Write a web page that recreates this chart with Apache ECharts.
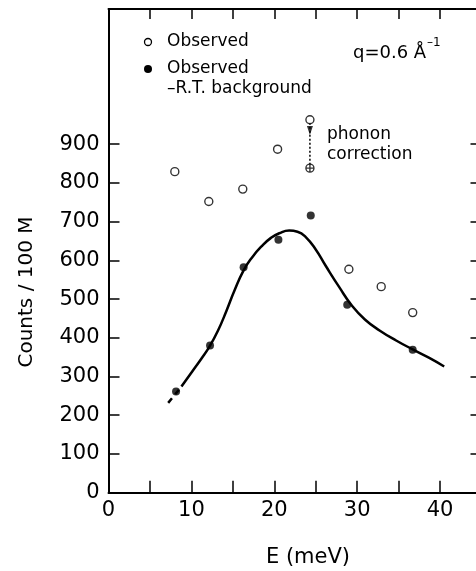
<!DOCTYPE html>
<html>
<head>
<meta charset="utf-8">
<script src="https://cdn.jsdelivr.net/npm/echarts@6/dist/echarts.min.js"></script>
<style>
  html, body { margin: 0; padding: 0; background: #fff; }
  #chart { width: 476px; height: 571px; }
</style>
</head>
<body>
<div id="chart"></div>
<script>
// ---- data ----
const obsE = [8.0, 12.1, 16.2, 20.4, 24.3, 29.0, 32.9, 36.7];
const obsY = [829, 752, 784, 887, 963, 577, 532, 465];

const bgE = [8.15, 12.25, 16.3, 20.5, 24.4, 28.8, 36.7];
const bgY = [261, 380, 582, 653, 716, 485, 369];

const corrE = [24.3];
const corrY = [838];

const arrowE = [24.3, 24.3];
const arrowY = [955, 845];
const arrowHeadE = [24.3];
const arrowHeadY = [935];

const fitE = [8.8, 10.1, 11.2, 12.2, 13.2, 14.2, 15.2, 16.3, 17.3, 18.5, 19.6, 20.6, 21.8, 22.8, 23.8, 25.0, 26.2, 27.8, 29.4, 31.0, 32.7, 34.7, 36.7, 38.7, 40.5];
const fitY = [274, 313, 346, 378, 418, 468, 522, 574, 607, 637, 658, 670, 677, 674, 660, 628, 586, 532, 482, 446, 419, 393, 370, 348, 326];

const fitDashE = [7.2, 8.8];
const fitDashY = [232, 274];

const xTicks = [0, 10, 20, 30, 40];
const yTicks = [0, 100, 200, 300, 400, 500, 600, 700, 800, 900];

const zip = (a, b) => a.map((v, i) => [v, b[i]]);
const FONT = 'DejaVu Sans';

const chart = echarts.init(document.getElementById('chart'), null, { renderer: 'canvas' });

const axisLine = { show: true, onZero: false, lineStyle: { color: '#000', width: 2 } };
const tickStyle = { color: '#000', width: 1.5 };

chart.setOption({
  backgroundColor: '#fff',
  animation: false,
  grid: { left: 108.5, top: 9, width: 373, height: 483.7, containLabel: false, outerBoundsMode: 'none' },
  xAxis: [
    {
      type: 'value', min: 0, max: 45, interval: 5, position: 'bottom',
      axisLine: axisLine,
      axisTick: { inside: true, length: 12, lineStyle: tickStyle },
      axisLabel: {
        color: '#000', fontSize: 21, fontFamily: FONT, margin: 7,
        formatter: v => (xTicks.indexOf(v) >= 0 ? String(v) : '')
      },
      splitLine: { show: false }
    },
    {
      type: 'value', min: 0, max: 45, interval: 5, position: 'top',
      axisLine: axisLine,
      axisTick: { inside: true, length: 10, lineStyle: tickStyle },
      axisLabel: { show: false },
      splitLine: { show: false }
    }
  ],
  yAxis: [
    {
      type: 'value', min: 0, max: 1249, interval: 100, position: 'left',
      axisLine: axisLine,
      axisTick: { inside: true, length: 11, lineStyle: tickStyle, customValues: yTicks },
      axisLabel: { color: '#000', fontSize: 21, fontFamily: FONT, margin: 9, customValues: yTicks },
      splitLine: { show: false }
    },
    {
      type: 'value', min: 0, max: 1249, interval: 100, position: 'right',
      axisLine: axisLine,
      axisTick: { inside: true, length: 11, lineStyle: tickStyle, customValues: yTicks },
      axisLabel: { show: false },
      splitLine: { show: false }
    }
  ],
  series: [
    {
      name: 'fit', type: 'line', data: zip(fitE, fitY), smooth: 0.5,
      showSymbol: false, lineStyle: { color: '#000', width: 2.5 }, z: 2
    },
    {
      name: 'fit (extrapolated)', type: 'line', data: zip(fitDashE, fitDashY),
      showSymbol: false, lineStyle: { color: '#000', width: 2.5, type: [6, 5] }, z: 2
    },
    {
      name: 'phonon correction', type: 'line', data: zip(arrowE, arrowY),
      showSymbol: false, lineStyle: { color: '#000', width: 1.5, type: [2, 2] }, z: 2
    },
    {
      name: 'arrow', type: 'scatter', data: zip(arrowHeadE, arrowHeadY),
      symbol: 'triangle', symbolRotate: 180, symbolSize: [6, 9],
      itemStyle: { color: '#000' }, z: 3
    },
    {
      name: 'Observed', type: 'scatter', data: zip(obsE, obsY),
      symbol: 'circle', symbolSize: 8,
      itemStyle: { color: '#fff', borderColor: '#000', borderWidth: 1.4 }, z: 4
    },
    {
      name: 'Observed –R.T. background', type: 'scatter', data: zip(bgE, bgY),
      symbol: 'circle', symbolSize: 8,
      itemStyle: { color: '#000' }, z: 4
    },
    {
      name: 'phonon corrected', type: 'scatter', data: zip(corrE, corrY),
      symbol: 'path://M0,-10A10,10,0,1,1,0,10A10,10,0,1,1,0,-10ZM-10,0L10,0M0,-10L0,10',
      symbolSize: 8,
      itemStyle: { color: '#fff', borderColor: '#000', borderWidth: 1.4 }, z: 4
    }
  ],
  graphic: [
    { type: 'circle', shape: { cx: 148, cy: 42, r: 3.5 }, style: { fill: '#fff', stroke: '#000', lineWidth: 1.3 } },
    { type: 'text', x: 167, y: 42, style: { text: 'Observed', font: '17px "DejaVu Sans"', fill: '#000', verticalAlign: 'middle' } },
    { type: 'circle', shape: { cx: 148, cy: 69, r: 4 }, style: { fill: '#000' } },
    { type: 'text', x: 167, y: 69, style: { text: 'Observed', font: '17px "DejaVu Sans"', fill: '#000', verticalAlign: 'middle' } },
    { type: 'text', x: 167, y: 89, style: { text: '–R.T. background', font: '17px "DejaVu Sans"', fill: '#000', verticalAlign: 'middle' } },
    { type: 'text', x: 353, y: 53, style: { text: 'q=0.6 Å', font: '18px "DejaVu Sans"', fill: '#000', verticalAlign: 'middle' } },
    { type: 'text', x: 427, y: 43, style: { text: '–1', font: '12px "DejaVu Sans"', fill: '#000', verticalAlign: 'middle' } },
    { type: 'text', x: 327, y: 135, style: { text: 'phonon', font: '17px "DejaVu Sans"', fill: '#000', verticalAlign: 'middle' } },
    { type: 'text', x: 327, y: 155, style: { text: 'correction', font: '17px "DejaVu Sans"', fill: '#000', verticalAlign: 'middle' } },
    { type: 'text', x: 27, y: 292, rotation: Math.PI / 2, style: { text: 'Counts / 100 M', font: '20px "DejaVu Sans"', fill: '#000', align: 'center', verticalAlign: 'middle' } },
    { type: 'text', x: 308, y: 558, style: { text: 'E (meV)', font: '21px "DejaVu Sans"', fill: '#000', align: 'center', verticalAlign: 'middle' } }
  ]
});
</script>
</body>
</html>
